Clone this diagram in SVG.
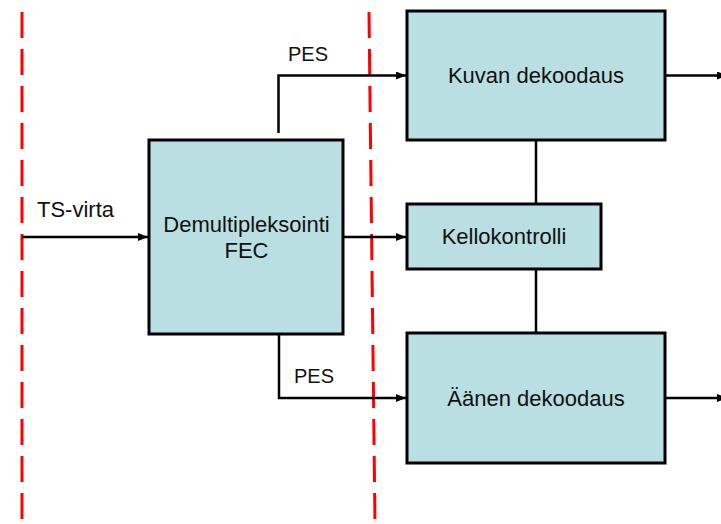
<svg xmlns="http://www.w3.org/2000/svg" width="721" height="524" viewBox="0 0 721 524">
<style>
.box{fill:#badfe2;stroke:#000;stroke-width:3}
.t{font-family:"Liberation Sans",Arial,sans-serif;font-size:22px;fill:#111;text-anchor:middle}
.l{font-family:"Liberation Sans",Arial,sans-serif;font-size:20px;fill:#111}
.c{fill:none;stroke:#000;stroke-width:2.5}
.d{stroke:#f00;stroke-width:3;stroke-dasharray:26 11}
</style>
<defs>
<marker id="a" markerUnits="userSpaceOnUse" markerWidth="11" markerHeight="9" refX="10" refY="4" orient="auto">
<path d="M0,0 L10,4 L0,8 z" fill="#000"/>
</marker>
</defs>
<rect width="721" height="524" fill="#fff"/>
<g id="guides">
<line class="d" x1="22" y1="12" x2="22" y2="524"/>
<line class="d" x1="369" y1="12" x2="375" y2="524"/>
</g>
<g id="connectors">
<path class="c" d="M278.5,133 V75.5 H406" marker-end="url(#a)"/>
<path class="c" d="M22,237 H148" marker-end="url(#a)"/>
<path class="c" d="M343,237 H406" marker-end="url(#a)"/>
<path class="c" d="M279,334 V398 H406" marker-end="url(#a)"/>
<path class="c" d="M665,75.5 H727" marker-end="url(#a)"/>
<path class="c" d="M665,398 H727" marker-end="url(#a)"/>
<path class="c" d="M536,140 V204"/>
<path class="c" d="M536,269 V333"/>
</g>
<g id="labels">
<text class="l" x="288" y="61">PES</text>
<text class="l" x="294" y="383">PES</text>
<text class="l" x="37" y="217" style="font-size:22px">TS-virta</text>
</g>
<g id="demux">
<rect class="box" x="149" y="140" width="194" height="194"/>
<text class="t" x="246.5" y="231.5">Demultipleksointi</text>
<text class="t" x="246.5" y="258">FEC</text>
</g>
<g id="kuva">
<rect class="box" x="407" y="11" width="258" height="129"/>
<text class="t" x="536" y="83">Kuvan dekoodaus</text>
</g>
<g id="kello">
<rect class="box" x="407" y="204" width="194" height="65"/>
<text class="t" x="504" y="244">Kellokontrolli</text>
</g>
<g id="aani">
<rect class="box" x="407" y="333" width="258" height="130"/>
<text class="t" x="536" y="406">Äänen dekoodaus</text>
</g>
</svg>
